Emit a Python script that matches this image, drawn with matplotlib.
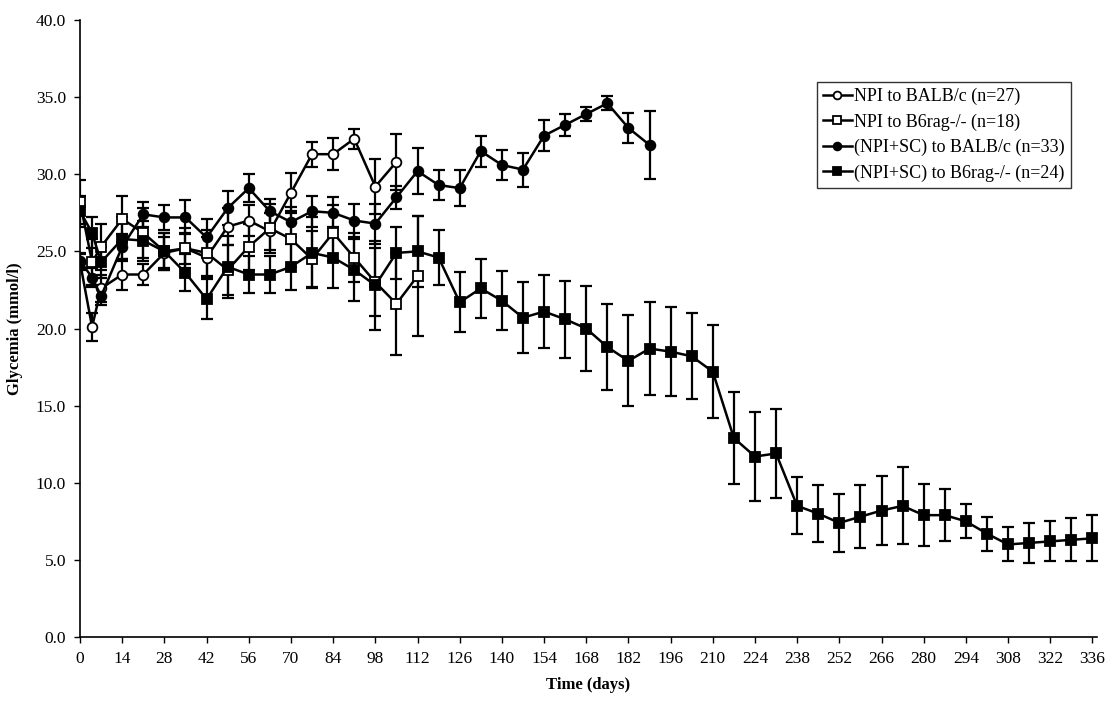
import matplotlib
matplotlib.use("Agg")
import matplotlib.pyplot as plt
from matplotlib.ticker import FormatStrFormatter

plt.rcParams['font.family'] = ['Liberation Serif', 'DejaVu Serif']

# sampling days: day 0, day 4, then weekly
days = [0, 4] + list(range(7, 337, 7))

# NPI to BALB/c (n=27)
npi_balb = [24.3, 20.1, 22.6, 23.5, 23.5, 24.9, 25.2, 24.6, 26.6, 27.0,
            26.3, 28.8, 31.3, 31.3, 32.3, 29.2, 30.8]
npi_balb_err = [0.5, 0.9, 0.9, 1.0, 0.7, 1.0, 1.0, 1.3, 1.2, 1.0,
                1.2, 1.3, 0.8, 1.05, 0.65, 1.8, 1.8]

# NPI to B6rag-/- (n=18)
npi_rag = [28.2, 24.3, 25.3, 27.1, 26.2, 25.0, 25.2, 24.9, 23.8, 25.3,
           26.5, 25.8, 24.5, 26.2, 24.6, 23.0, 21.6, 23.4]
npi_rag_err = [1.4, 1.5, 1.5, 1.5, 1.6, 1.2, 1.3, 1.5, 1.6, 1.5,
               1.6, 1.8, 1.8, 1.8, 1.6, 2.2, 3.3, 3.9]

# (NPI+SC) to BALB/c (n=33)
sc_balb = [24.4, 23.3, 22.1, 25.3, 27.4, 27.2, 27.2, 25.9, 27.8, 29.1,
           27.6, 26.9, 27.6, 27.5, 27.0, 26.8, 28.5, 30.2, 29.3, 29.1,
           31.5, 30.6, 30.3, 32.5, 33.2, 33.9, 34.6, 33.0, 31.9]
sc_balb_err = [0.5, 0.6, 0.6, 0.8, 0.8, 0.8, 1.1, 1.2, 1.1, 0.9,
               0.8, 1.0, 1.0, 1.0, 1.1, 1.3, 0.75, 1.5, 0.95, 1.15,
               1.0, 1.0, 1.1, 1.0, 0.7, 0.45, 0.45, 0.95, 2.2]

# (NPI+SC) to B6rag-/- (n=24)
sc_rag = [27.6, 26.2, 24.3, 25.8, 25.7, 25.0, 23.6, 21.9, 24.0, 23.5,
          23.5, 24.0, 24.9, 24.6, 23.8, 22.8, 24.9, 25.0, 24.6, 21.7,
          22.6, 21.8, 20.7, 21.1, 20.6, 20.0, 18.8, 17.9, 18.7, 18.5,
          18.2, 17.2, 12.9, 11.7, 11.9, 8.5, 8.0, 7.4, 7.8, 8.2,
          8.5, 7.9, 7.9, 7.5, 6.7, 6.0, 6.1, 6.2, 6.3, 6.4]
sc_rag_err = [1.0, 1.0, 1.0, 1.4, 1.3, 1.2, 1.2, 1.3, 2.0, 1.2,
              1.2, 1.5, 2.3, 2.0, 2.0, 2.9, 1.7, 2.3, 1.8, 1.95,
              1.9, 1.9, 2.3, 2.35, 2.5, 2.75, 2.8, 2.95, 3.0, 2.9,
              2.8, 3.0, 3.0, 2.9, 2.9, 1.85, 1.85, 1.9, 2.05, 2.25,
              2.5, 2.0, 1.7, 1.1, 1.1, 1.1, 1.3, 1.3, 1.4, 1.5]

series = [
    ("NPI to BALB/c (n=27)", npi_balb, npi_balb_err, "o", "white"),
    ("NPI to B6rag-/- (n=18)", npi_rag, npi_rag_err, "s", "white"),
    ("(NPI+SC) to BALB/c (n=33)", sc_balb, sc_balb_err, "o", "black"),
    ("(NPI+SC) to B6rag-/- (n=24)", sc_rag, sc_rag_err, "s", "black"),
]

fig = plt.figure(figsize=(11.13, 7.06), dpi=100)
ax = fig.add_axes([0.0719, 0.0977, 0.9137, 0.874])

for label, vals, errs, marker, face in series:
    x = days[:len(vals)]
    ax.errorbar(x, vals, yerr=errs, fmt='none', ecolor='black',
                elinewidth=1.6, capsize=4, capthick=1.6, zorder=2)
    ax.plot(x, vals, color='black', linewidth=1.8, marker=marker,
            markersize=7, markerfacecolor=face, markeredgecolor='black',
            markeredgewidth=1.3, label=label, zorder=3)

ax.set_xlim(0, 337.5)
ax.set_ylim(0, 40)
ax.set_xticks(range(0, 337, 14))
ax.set_yticks(range(0, 41, 5))
ax.yaxis.set_major_formatter(FormatStrFormatter('%.1f'))
ax.tick_params(direction='out', length=4, width=1, labelsize=12.5, pad=6)

for side in ('top', 'right'):
    ax.spines[side].set_visible(False)
for side in ('left', 'bottom'):
    ax.spines[side].set_linewidth(1.2)

ax.set_xlabel('Time (days)', fontsize=12, fontweight='bold', labelpad=7)
ax.set_ylabel('Glycemia (mmol/l)', fontsize=12, fontweight='bold', labelpad=9)

leg = ax.legend(loc='upper right', bbox_to_anchor=(0.974, 0.9),
                fontsize=13, frameon=True, fancybox=False, handlelength=1.6,
                handletextpad=0.1, borderpad=0.35, labelspacing=0.45,
                borderaxespad=0, markerscale=0.8)
leg.get_frame().set_edgecolor('black')
leg.get_frame().set_linewidth(1.0)

fig.savefig('out.png', dpi=100)
